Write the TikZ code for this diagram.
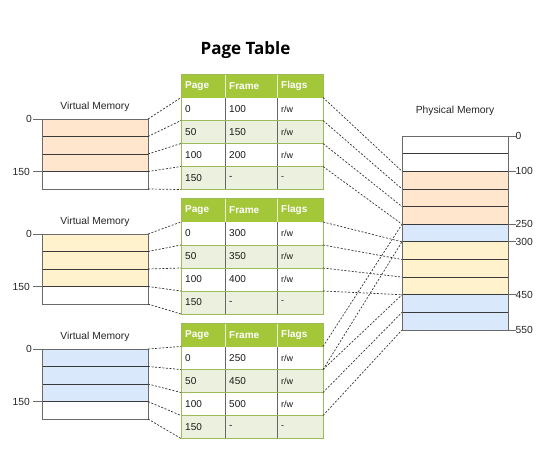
\documentclass[tikz,border=0pt]{standalone}
\usepackage{fontspec}
\setmainfont{Liberation Sans}
\newfontfamily\titlefont{Open Sans}
\newcommand\rwtxt{r/w}
\definecolor{orangeF}{HTML}{FFE6CC}
\definecolor{yellowF}{HTML}{FFF2CC}
\definecolor{blueF}{HTML}{DAE8FC}
\definecolor{hdrG}{HTML}{A4C639}
\definecolor{rowG}{HTML}{EBF1DE}
\definecolor{lineG}{HTML}{9BBB59}
\definecolor{boxL}{HTML}{3A3A3A}
\definecolor{boxO}{HTML}{6A6A6A}
\tikzset{
  conn/.style={draw=black!80,line width=0.7pt,dash pattern=on 2pt off 1.6pt},
  lbl/.style={inner sep=0pt,font=\fontsize{10.3}{12}\selectfont,text=black!85},
  cell/.style={inner sep=0pt,anchor=west,font=\fontsize{10}{12}\selectfont,text=black!90},
  hcell/.style={inner sep=0pt,anchor=west,font=\fontsize{10}{12}\selectfont\bfseries,text=white},
  rowline/.style={draw=boxL,line width=0.7pt},
  outline/.style={draw=boxO,line width=1pt},
  tick/.style={draw=boxO,line width=0.7pt}
}
\begin{document}
\begin{tikzpicture}[x=1pt,y=-1pt]
\useasboundingbox (0,0) rectangle (551,472);
\node[inner sep=0pt,font=\titlefont\fontsize{17}{19}\selectfont\bfseries] (title) at (245.5,50) {Page Table};
% physical memory
\fill[orangeF] (402,171.27) rectangle (508,224.18);
\fill[blueF] (402,224.18) rectangle (508,241.82);
\fill[yellowF] (402,241.82) rectangle (508,294.73);
\fill[blueF] (402,294.73) rectangle (508,330);
\foreach \j in {1,...,10}{\draw[rowline] (402,{136+17.636*\j}) -- (508,{136+17.636*\j});}
\draw[outline] (402,136) rectangle (508,330);
\foreach \j in {0,...,11}{\coordinate (pm-\j) at (402,{136+17.636*\j});}
\node[lbl] (pmlabel) at (455,111) {Physical Memory};
\foreach \j/\t in {0/0,2/100,5/250,6/300,9/450,11/550}{
  \coordinate (pt-\j) at (508,{136+17.636*\j});
  \node[lbl,anchor=west] (ptl-\j) at (515.5,{136+17.636*\j}) {\t};
  \draw[tick] (pt-\j) -- (ptl-\j.west);
}
% groups
\foreach \i/\col/\fa/\fb/\fc in {0/orangeF/100/150/200,1/yellowF/300/350/400,2/blueF/250/450/500}{
  \pgfmathsetmacro\vy{119+115*\i}
  \pgfmathsetmacro\ty{74+124.5*\i}
  % virtual memory
  \fill[\col] (42,\vy) rectangle (148,{\vy+52.5});
  \foreach \k in {1,2,3}{\draw[rowline] (42,{\vy+17.5*\k}) -- (148,{\vy+17.5*\k});}
  \draw[outline] (42,\vy) rectangle (148,{\vy+70});
  \foreach \k in {0,...,4}{\coordinate (vm\i-\k) at (148,{\vy+17.5*\k});}
  \node[lbl] (vml\i) at (95,{\vy-12}) {Virtual Memory};
  \node[lbl,anchor=east] (vt\i a) at (32,\vy) {0};
  \node[lbl,anchor=east] (vt\i b) at (30,{\vy+52.5}) {150};
  \coordinate (vl\i a) at (42,\vy);
  \coordinate (vl\i b) at (42,{\vy+52.5});
  \draw[tick] (vt\i a.east) ++(1,0) -- (vl\i a);
  \draw[tick] (vt\i b.east) ++(3,0) -- (vl\i b);
  % page table
  \fill[hdrG] (181,\ty) rectangle (323,{\ty+23.5});
  \fill[rowG] (181,{\ty+46.5}) rectangle (323,{\ty+69.5});
  \fill[rowG] (181,{\ty+92.5}) rectangle (323,{\ty+115.5});
  \draw[white!75!hdrG,line width=0.8pt] (225,\ty) -- (225,{\ty+23.5}) (277,\ty) -- (277,{\ty+23.5});
  \draw[black!60,line width=0.8pt] (225,{\ty+23.5}) -- (225,{\ty+115.5}) (277,{\ty+23.5}) -- (277,{\ty+115.5});
  \foreach \k in {1,2,3}{\draw[lineG,line width=0.9pt] (181,{\ty+23.5+23*\k}) -- (323,{\ty+23.5+23*\k});}
  \draw[lineG,line width=1pt] (181,\ty) rectangle (323,{\ty+115.5});
  \foreach \k in {0,...,4}{
    \coordinate (tl\i-\k) at (181,{\ty+23.5+23*\k});
    \coordinate (tr\i-\k) at (323,{\ty+23.5+23*\k});
  }
  \node[hcell] (h\i a) at (185,{\ty+11.75}) {Page};
  \node[hcell] (h\i b) at (229,{\ty+11.75}) {Frame};
  \node[hcell] (h\i c) at (281,{\ty+11.75}) {Flags};
  \foreach \k/\p/\f/\g in {0/0/\fa/\rwtxt,1/50/\fb/\rwtxt,2/100/\fc/\rwtxt,3/150/-/-}{
    \node[cell] (c\i-\k a) at (185,{\ty+35+23*\k}) {\p};
    \node[cell] (c\i-\k b) at (229,{\ty+35+23*\k}) {\f};
    \node[cell,font=\fontsize{9}{11}\selectfont] (c\i-\k c) at (281,{\ty+35+23*\k}) {\g};
  }
  \foreach \k in {0,...,4}{\draw[conn] (vm\i-\k) -- (tl\i-\k);}
}
% right connectors
\draw[conn] (tr0-0) -- (pm-2);
\draw[conn] (tr0-1) -- (pm-3);
\draw[conn] (tr0-2) -- (pm-4);
\draw[conn] (tr0-3) -- (pm-5);
\draw[conn] (tr1-0) -- (pm-6);
\draw[conn] (tr1-1) -- (pm-7);
\draw[conn] (tr1-2) -- (pm-8);
\draw[conn] (tr1-3) -- (pm-9);
\draw[conn] (tr2-0) -- (pm-5);
\draw[conn] (tr2-1) -- (pm-6);
\draw[conn] (tr2-1) -- (pm-9);
\draw[conn] (tr2-2) -- (pm-10);
\draw[conn] (tr2-3) -- (pm-11);
\end{tikzpicture}
\end{document}
